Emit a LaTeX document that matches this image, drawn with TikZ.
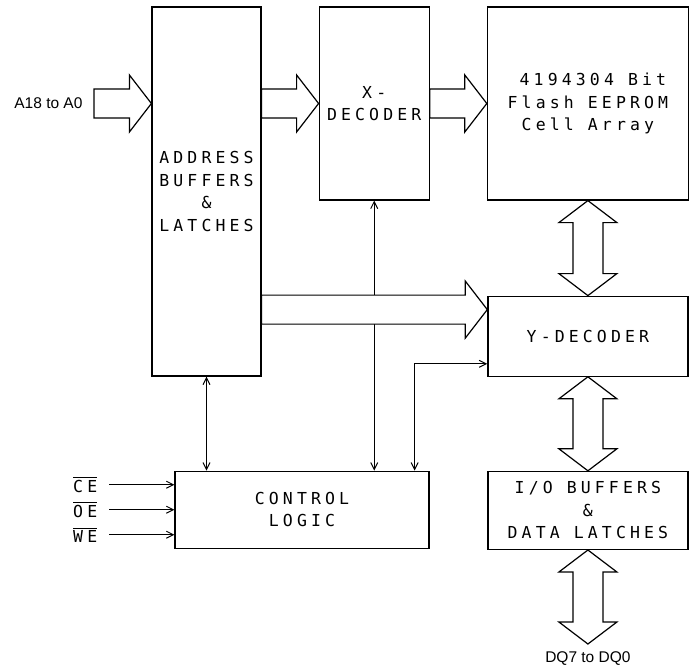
\documentclass[tikz,border=0pt]{standalone}
\usepackage{amsmath}
\usepackage{fontspec}
\newfontfamily\plotfont[LetterSpace=25]{DejaVu Sans Mono}
\newfontfamily\sansfont{Liberation Sans}
\usetikzlibrary{arrows.meta,positioning,calc}
\tikzset{block/.style = {draw, rectangle, line width=1.2pt, inner sep=0pt, align=center,
                         font=\plotfont\fontsize{16.5}{22.5}\selectfont},
         sig/.style = {line width=1pt},
         bus/.style = {draw, fill=white, line width=1.2pt, line join=miter},
         buslabel/.style = {font=\sansfont\fontsize{15.5}{18}\selectfont},
         sigin/.style = {font=\plotfont\fontsize{16.5}{18}\selectfont, inner xsep=12pt},
         >={Straight Barb[length=7pt,width=7pt]},
}
% wide horizontal bus: tail, tip
\newcommand\hbus[2]{%
  \path[bus] let \p1 = (#1), \p2 = (#2) in
    (\x1,\y2+14.5pt) -- (\x2-22pt,\y2+14.5pt) -- (\x2-22pt,\y2+28.5pt) -- (\x2,\y2)
    -- (\x2-22pt,\y2-28.5pt) -- (\x2-22pt,\y2-14.5pt) -- (\x1,\y2-14.5pt) -- cycle;}
% wide two-way bus: top tip, bottom tip
\newcommand\vbus[2]{%
  \path[bus] let \p1 = (#1), \p2 = (#2) in
    (\x1,\y1) -- (\x1+29pt,\y1-22pt) -- (\x1+15pt,\y1-22pt) -- (\x1+15pt,\y2+22pt)
    -- (\x1+29pt,\y2+22pt) -- (\x1,\y2) -- (\x1-29pt,\y2+22pt) -- (\x1-15pt,\y2+22pt)
    -- (\x1-15pt,\y1-22pt) -- (\x1-29pt,\y1-22pt) -- cycle;}

\begin{document}
\begin{tikzpicture}[x=1pt, y=-1pt]

  \useasboundingbox (0,0) rectangle (690,671);

  \node[block, minimum width=109pt, minimum height=369pt] (addr) at (206.5,191.5)
       {ADDRESS\\BUFFERS\\\&\\LATCHES};
  \node[block, minimum width=110pt, minimum height=193pt, right=57pt of addr.north east, anchor=north west] (xdec)
       {X-\\DECODER};
  \node[block, minimum width=201pt, minimum height=193pt, right=57pt of xdec.north east, anchor=north west] (cell)
       {\hphantom{0}4194304 Bit\\Flash EEPROM\\Cell Array};
  \node[block, minimum width=200pt, minimum height=80pt, below=95pt of cell] (ydec) {Y-DECODER};
  \node[block, minimum width=200pt, minimum height=78pt, below=94pt of ydec] (io)
       {I/O BUFFERS\\\&\\DATA LATCHES};
  \node[block, minimum width=254pt, minimum height=77pt, below=94pt of addr.south west, anchor=north west, xshift=23pt] (ctrl)
       {CONTROL\\LOGIC};

  % control inputs
  \node[sigin, left=65pt of ctrl.west, yshift=25pt] (ce) {$\overline{\text{CE}}$};
  \node[sigin, left=65pt of ctrl.west] (oe) {$\overline{\text{OE}}$};
  \node[sigin, left=65pt of ctrl.west, yshift=-25pt] (we) {$\overline{\text{WE}}$};
  \draw[sig, ->] (ce.east) -- (ce.east -| ctrl.west);
  \draw[sig, ->] (oe.east) -- (oe.east -| ctrl.west);
  \draw[sig, ->] (we.east) -- (we.east -| ctrl.west);

  % control lines
  \coordinate (ysel) at ([yshift=13pt]ydec.south west);
  \coordinate (csel) at ([xshift=-15pt]ctrl.north east);
  \draw[sig, <->] (addr.south) -- (addr.south |- ctrl.north);
  \draw[sig, <->] (xdec.south) -- (xdec.south |- ctrl.north);
  \draw[sig, <->] (ysel) -| (csel);

  % address and data buses
  \coordinate (ain) at (94,103.5);
  \coordinate (ybus) at ([yshift=-14pt]ydec.north west);
  \coordinate[below=94pt of io.south] (dqout);
  \hbus{ain}{addr.west |- ain}
  \hbus{addr.east |- xdec.west}{xdec.west}
  \hbus{xdec.east}{cell.west}
  \hbus{addr.east |- ybus}{ybus}
  \vbus{cell.south}{ydec.north}
  \vbus{ydec.south}{io.north}
  \vbus{io.south}{dqout}
  \node[buslabel, left=8pt of ain] (alabel) {A18 to A0};
  \node[buslabel, below=4pt of dqout] (dqlabel) {DQ7 to DQ0};

\end{tikzpicture}
\end{document}
